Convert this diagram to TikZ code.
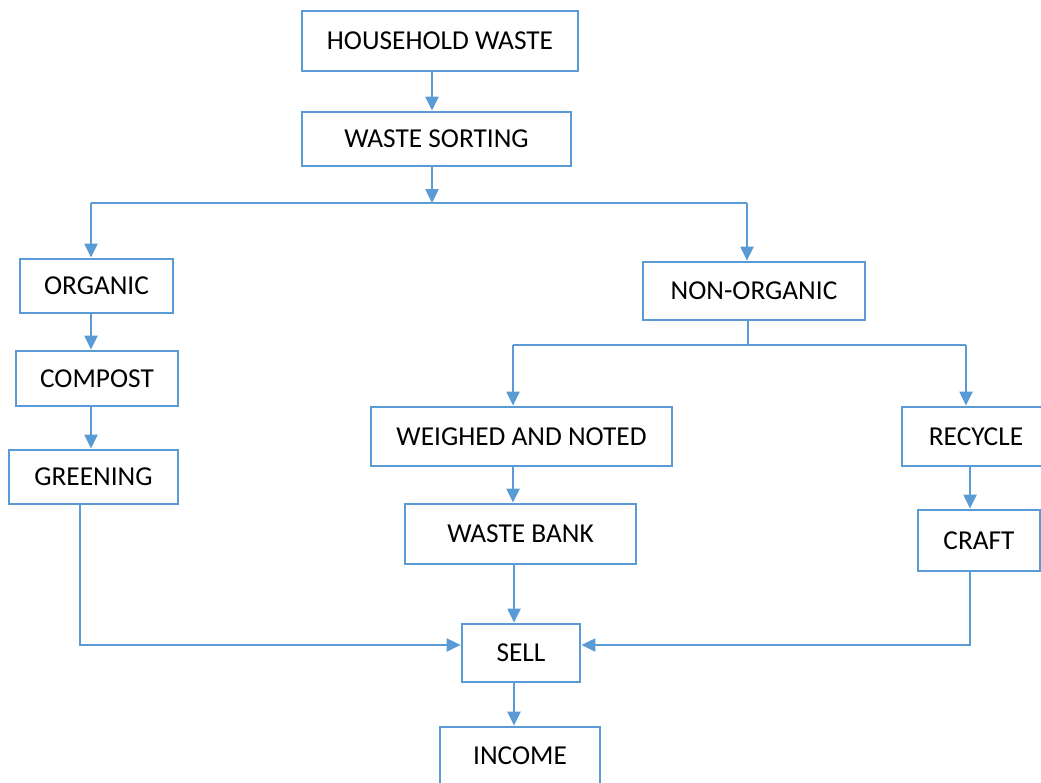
\documentclass[tikz,border=0pt]{standalone}
\usepackage{fontspec}
\setmainfont{Carlito}
\usetikzlibrary{arrows.meta,positioning,calc}
\definecolor{flowblue}{RGB}{91,155,213}
\tikzset{
  box/.style={draw=flowblue, line width=2.2pt, inner sep=0pt, fill=white,
    font=\fontsize{20.5}{24}\selectfont},
  flow/.style={flowblue, line width=1pt, -{Triangle[length=10.5pt,width=10pt]}},
  link/.style={flowblue, line width=1pt},
}

\begin{document}
\begin{tikzpicture}[x=0.75pt,y=-0.75pt]
    \useasboundingbox (0,0) rectangle (1041,782);
    \clip (0,0) rectangle (1041,782);

    % 上方主干
    \node[box, minimum width=207pt, minimum height=45pt] (hw) at (440,41) {HOUSEHOLD WASTE};
    \node[box, minimum width=201.75pt, minimum height=40.5pt] (ws) at (436.5,139) {WASTE SORTING};

    % 左侧有机分支
    \node[box, minimum width=114.75pt, minimum height=40.5pt] (org) at (96.5,286) {ORGANIC};
    \node[box, minimum width=121.5pt, minimum height=41.25pt] (comp) at (97,378.5) {COMPOST};
    \node[box, minimum width=126.75pt, minimum height=40.5pt] (green) at (93.5,477) {GREENING};

    % 右侧无机分支
    \node[box, minimum width=166.5pt, minimum height=43.5pt] (nonorg) at (754,291) {NON-ORGANIC};
    \node[box, minimum width=225.75pt, minimum height=44.25pt] (weigh) at (521.5,436.5) {WEIGHED AND NOTED};
    \node[box, minimum width=173.25pt, minimum height=45pt] (bank) at (520.5,534) {WASTE BANK};
    \node[box, minimum width=111pt, minimum height=44.25pt] (recyc) at (976,436.5) {RECYCLE};
    \node[box, minimum width=91.5pt, minimum height=45.75pt] (craft) at (979,540.5) {CRAFT};

    % 下方汇合
    \node[box, minimum width=88.5pt, minimum height=43.5pt] (sell) at (521,653) {SELL};
    \node[box, minimum width=120pt, minimum height=43.5pt] (income) at (520,756) {INCOME};

    % 分叉点
    \coordinate (s1) at (432,203);
    \coordinate (s1l) at (91,203);
    \coordinate (s1r) at (747,203);
    \coordinate (s2) at (748,345);
    \coordinate (s2l) at (513,345);
    \coordinate (s2r) at (966,345);
    \coordinate (g) at (80,645);
    \coordinate (c) at (970,645);
    \coordinate (m) at (514,0);

    % 连线
    \draw[flow] (hw.south -| s1) -- (ws.north -| s1);
    \draw[flow] (ws.south -| s1) -- (s1);
    \draw[link] (s1l) -- (s1r);
    \draw[flow] (s1l) -- (org.north -| s1l);
    \draw[flow] (s1r) -- (nonorg.north -| s1r);
    \draw[flow] (org.south -| s1l) -- (comp.north -| s1l);
    \draw[flow] (comp.south -| s1l) -- (green.north -| s1l);

    \draw[link] (nonorg.south -| s2) -- (s2);
    \draw[link] (s2l) -- (s2r);
    \draw[flow] (s2l) -- (weigh.north -| s2l);
    \draw[flow] (s2r) -- (recyc.north -| s2r);
    \draw[flow] (weigh.south -| s2l) -- (bank.north -| s2l);
    \draw[flow] (recyc.south -| c) -- (craft.north -| c);

    \draw[flow] (green.south -| g) -- (g) -- (sell.west |- g);
    \draw[flow] (craft.south -| c) -- (c) -- (sell.east |- c);
    \draw[flow] (bank.south -| m) -- (sell.north -| m);
    \draw[flow] (sell.south -| m) -- (income.north -| m);
\end{tikzpicture}
\end{document}
